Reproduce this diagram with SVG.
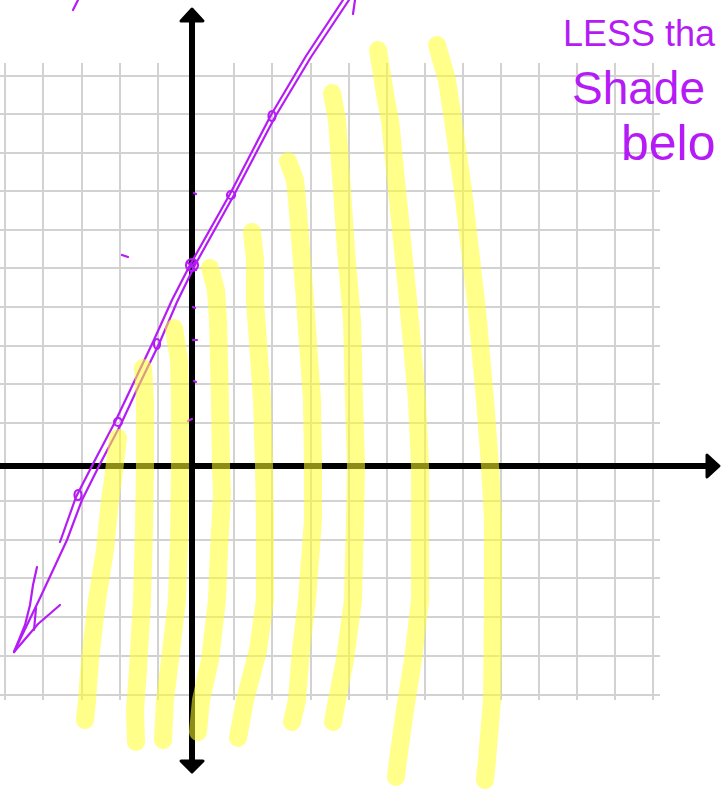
<svg xmlns="http://www.w3.org/2000/svg" width="722" height="790" viewBox="0 0 722 790">
<style>
.grid line{stroke:#d2d2d2;stroke-width:2}
.axis{stroke:#000;stroke-width:6;fill:none}
.head{fill:#000;stroke:#000;stroke-width:3;stroke-linejoin:round}
.hl{fill:none;stroke:#ffff2a;stroke-opacity:0.55;stroke-width:18;stroke-linecap:round;stroke-linejoin:round}
.pen{fill:none;stroke:#b51cf5;stroke-width:2.2;stroke-linecap:round;stroke-linejoin:round}
.ink{fill:#b51cf5;font-family:"Liberation Sans",Arial,sans-serif}
</style>
<rect width="722" height="790" fill="#fff"/>
<g id="grid" class="grid">
<line x1="5" y1="63" x2="5" y2="700"/>
<line x1="43" y1="63" x2="43" y2="700"/>
<line x1="82" y1="63" x2="82" y2="700"/>
<line x1="120" y1="63" x2="120" y2="700"/>
<line x1="158" y1="63" x2="158" y2="700"/>
<line x1="234" y1="63" x2="234" y2="700"/>
<line x1="272" y1="63" x2="272" y2="700"/>
<line x1="311" y1="63" x2="311" y2="700"/>
<line x1="349" y1="63" x2="349" y2="700"/>
<line x1="387" y1="63" x2="387" y2="700"/>
<line x1="425" y1="63" x2="425" y2="700"/>
<line x1="463" y1="63" x2="463" y2="700"/>
<line x1="501" y1="63" x2="501" y2="700"/>
<line x1="539" y1="63" x2="539" y2="700"/>
<line x1="577" y1="63" x2="577" y2="700"/>
<line x1="615" y1="63" x2="615" y2="700"/>
<line x1="653" y1="63" x2="653" y2="700"/>
<line x1="0" y1="76" x2="660" y2="76"/>
<line x1="0" y1="114" x2="660" y2="114"/>
<line x1="0" y1="153" x2="660" y2="153"/>
<line x1="0" y1="191" x2="660" y2="191"/>
<line x1="0" y1="230" x2="660" y2="230"/>
<line x1="0" y1="268" x2="660" y2="268"/>
<line x1="0" y1="307" x2="660" y2="307"/>
<line x1="0" y1="346" x2="660" y2="346"/>
<line x1="0" y1="384" x2="660" y2="384"/>
<line x1="0" y1="423" x2="660" y2="423"/>
<line x1="0" y1="501" x2="660" y2="501"/>
<line x1="0" y1="540" x2="660" y2="540"/>
<line x1="0" y1="578" x2="660" y2="578"/>
<line x1="0" y1="617" x2="660" y2="617"/>
<line x1="0" y1="656" x2="660" y2="656"/>
<line x1="0" y1="695" x2="660" y2="695"/>
</g>
<g id="axes">
<line class="axis" x1="192" y1="16" x2="192" y2="766"/>
<polygon class="head" points="192,9 203,21 181,21"/>
<polygon class="head" points="192,772 203,761 181,761"/>
<line class="axis" x1="0" y1="466" x2="712" y2="466"/>
<polygon class="head" points="719,466 707,455 707,477"/>
</g>
<g id="boundary-line" class="pen">
<path d="M343,0 L306,56 L271,115 L230,194 L190,265 L172,300 L153,342 L134,382 L115,422 L95,460 L76,497 L60,542"/>
<path d="M349,0 L311,57 L275,117 L234,195 L195,265 L177,302 L159,344 L140,383 L121,424 L101,462 L82,500 L67,540 L40,598 L14,652"/>
<path d="M37,567 L33,585 L30,605 L25,625 L14,652"/>
<path d="M14,652 L26,638 L38,624 L60,605"/>
<path d="M36,608 L34,630"/>
<path d="M355,0 L353,14"/>
<ellipse cx="272" cy="116" rx="3.5" ry="5"/>
<ellipse cx="231" cy="195" rx="4" ry="4"/>
<ellipse cx="192" cy="265" rx="6" ry="6"/>
<path d="M187,262 L196,270 M188,270 L196,261"/>
<ellipse cx="157" cy="344" rx="3" ry="5"/>
<ellipse cx="118" cy="422" rx="4" ry="4"/>
<ellipse cx="78" cy="495" rx="3.5" ry="5"/>
<path d="M78,0 L73,10"/>
<path d="M122,255 L128,257"/>
<path d="M194,193 L196,194"/>
<path d="M193,307 L195,308"/>
<path d="M193,340 L197,340"/>
<path d="M194,381 L196,382"/>
<path d="M188,421 L192,419"/>
</g>
<g id="shading" class="hl">
<path d="M118,438 L113,480 L110,500 L105,550 L97,600 L90,660 L87,700 L85,720"/>
<path d="M143,368 L145,400 L145,466 L144,530 L142,600 L138,670 L135,710 L136,742"/>
<path d="M174,328 L179,360 L180,400 L180,466 L179,540 L177,600 L170,660 L165,700 L163,740"/>
<path d="M210,268 L216,290 L218,320 L220,400 L221,466 L222,495 L219,550 L217,600 L210,660 L201,700 L198,732"/>
<path d="M252,232 L255,260 L255,300 L262,400 L264,466 L265,520 L265,600 L258,650 L245,700 L238,738"/>
<path d="M288,161 L295,180 L297,200 L301,250 L305,300 L312,400 L313,466 L313,520 L307,600 L301,650 L297,700 L292,722"/>
<path d="M332,93 L337,120 L342,190 L346,250 L352,320 L354,400 L356,466 L355,520 L353,600 L345,660 L337,700 L333,722"/>
<path d="M378,50 L386,100 L390,120 L397,190 L403,250 L408,300 L417,400 L420,466 L420,540 L420,600 L413,660 L405,710 L398,760 L396,777"/>
<path d="M437,45 L447,80 L453,120 L463,190 L470,250 L477,310 L485,400 L490,466 L493,520 L493,600 L492,700 L487,760 L485,780"/>
</g>
<g id="note">
<text class="ink" x="563" y="46" font-size="36">LESS tha</text>
<text class="ink" x="572" y="104" font-size="46">Shade</text>
<text class="ink" x="621" y="160" font-size="50">belo</text>
</g>
</svg>
